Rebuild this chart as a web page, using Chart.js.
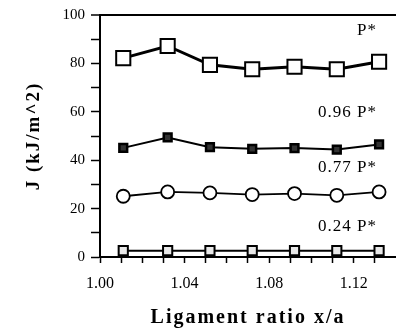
<!DOCTYPE html>
<html>
<head>
<meta charset="utf-8">
<script src="https://cdn.jsdelivr.net/npm/chart.js@4"></script>
<style>
  html, body { margin: 0; padding: 0; background: #fff; }
  #wrap { width: 396px; height: 332px; }
</style>
</head>
<body>
<div id="wrap"><canvas id="chart" width="396" height="332"></canvas></div>
<script>
// Datos
const ratios = [1.011, 1.032, 1.052, 1.072, 1.092, 1.112, 1.132];
const jP100 = [82.2, 87.2, 79.4, 77.6, 78.6, 77.6, 80.7];
const jP96 = [45.1, 49.4, 45.4, 44.7, 45.0, 44.4, 46.5];
const jP77 = [25.1, 26.9, 26.5, 25.8, 26.2, 25.5, 26.9];
const jP24 = [2.6, 2.6, 2.6, 2.6, 2.6, 2.6, 2.6];
const loadLabels = ['P*', '0.96 P*', '0.77 P*', '0.24 P*'];
const labelAnchors = [[1.131, 93.5], [1.131, 59.5], [1.131, 37], [1.131, 12.4]];

const serif = "'Liberation Serif', 'DejaVu Serif', serif";

const toPoints = (ys) => ratios.map((x, i) => ({ x: x, y: ys[i] }));

// Titulos con letras mas separadas, como en el original
function spacedTitle(scale, spacing) {
  if (scale._spaced) return;
  scale._spaced = true;
  const orig = scale.drawTitle;
  scale.drawTitle = function () {
    this.ctx.save();
    this.ctx.letterSpacing = spacing;
    orig.call(this);
    this.ctx.restore();
  };
}

// Etiquetas de carga sobre las curvas
const loadLabelPlugin = {
  id: 'loadLabels',
  afterDatasetsDraw(chart) {
    const { ctx, scales } = chart;
    ctx.save();
    ctx.fillStyle = '#000';
    ctx.font = '17px ' + serif;
    ctx.letterSpacing = '1px';
    ctx.textAlign = 'right';
    ctx.textBaseline = 'middle';
    loadLabels.forEach((txt, i) => {
      const [x, y] = labelAnchors[i];
      ctx.fillText(txt, scales.x.getPixelForValue(x), scales.y.getPixelForValue(y));
    });
    ctx.restore();
  }
};

new Chart(document.getElementById('chart'), {
  type: 'scatter',
  data: {
    datasets: [
      {
        label: 'P*',
        data: toPoints(jP100),
        showLine: true,
        borderColor: '#000',
        borderWidth: 3,
        pointStyle: 'rect',
        pointRadius: 10,
        pointBorderWidth: 2,
        pointBackgroundColor: '#fff',
        pointBorderColor: '#000'
      },
      {
        label: '0.96 P*',
        data: toPoints(jP96),
        showLine: true,
        borderColor: '#000',
        borderWidth: 2,
        pointStyle: 'rect',
        pointRadius: 5.5,
        pointBorderWidth: 2.5,
        pointBackgroundColor: '#333',
        pointBorderColor: '#000'
      },
      {
        label: '0.77 P*',
        data: toPoints(jP77),
        showLine: true,
        borderColor: '#000',
        borderWidth: 1.8,
        pointStyle: 'circle',
        pointRadius: 6.5,
        pointBorderWidth: 1.8,
        pointBackgroundColor: '#fff',
        pointBorderColor: '#000'
      },
      {
        label: '0.24 P*',
        data: toPoints(jP24),
        showLine: true,
        borderColor: '#000',
        borderWidth: 2,
        pointStyle: 'rect',
        pointRadius: 6.5,
        pointBorderWidth: 2,
        pointBackgroundColor: '#e8e8e8',
        pointBorderColor: '#000'
      }
    ]
  },
  options: {
    responsive: false,
    animation: false,
    devicePixelRatio: 1,
    layout: { autoPadding: false, padding: { top: 14, right: 0, bottom: 0, left: 0 } },
    plugins: {
      legend: { display: false },
      tooltip: { enabled: false }
    },
    scales: {
      x: {
        type: 'linear',
        min: 1.00,
        max: 1.14,
        // sin marca en el borde derecho, asi no se reserva margen
        afterBuildTicks(scale) {
          scale.ticks = scale.ticks.filter((t) => t.value < 1.135);
        },
        afterFit(scale) {
          scale.height = 75;
          spacedTitle(scale, '2px');
        },
        border: { display: true, color: '#000', width: 2 },
        grid: { drawOnChartArea: false, drawTicks: true, tickLength: 6, tickColor: '#000', tickWidth: 1.5 },
        ticks: {
          stepSize: 0.01,
          autoSkip: false,
          maxRotation: 0,
          padding: 11,
          color: '#000',
          font: { family: serif, size: 16 },
          callback: (v) => (Math.round(v * 100) % 4 === 0 ? v.toFixed(2) : '')
        },
        title: {
          display: true,
          text: 'Ligament ratio x/a',
          color: '#000',
          font: { family: serif, size: 20, weight: 'bold' },
          padding: { top: 0, bottom: 2 }
        }
      },
      y: {
        min: 0,
        max: 100,
        afterFit(scale) {
          scale.width = 100;
          spacedTitle(scale, '2px');
        },
        border: { display: true, color: '#000', width: 2 },
        grid: {
          drawOnChartArea: true,
          color: (c) => (c.tick && c.tick.value === 100 ? '#000' : 'rgba(0,0,0,0)'),
          lineWidth: (c) => (c.tick && c.tick.value === 100 ? 2 : 1),
          tickLength: 9,
          tickColor: '#000',
          tickWidth: 1.5
        },
        ticks: {
          stepSize: 10,
          autoSkip: false,
          padding: 6,
          color: '#000',
          font: { family: serif, size: 15 },
          callback: (v) => (v % 20 === 0 ? String(v) : '')
        },
        title: {
          display: true,
          text: 'J (kJ/m^2)',
          color: '#000',
          font: { family: serif, size: 19, weight: 'bold' },
          padding: { top: 23, bottom: 0 }
        }
      }
    }
  },
  plugins: [loadLabelPlugin]
});
</script>
</body>
</html>
